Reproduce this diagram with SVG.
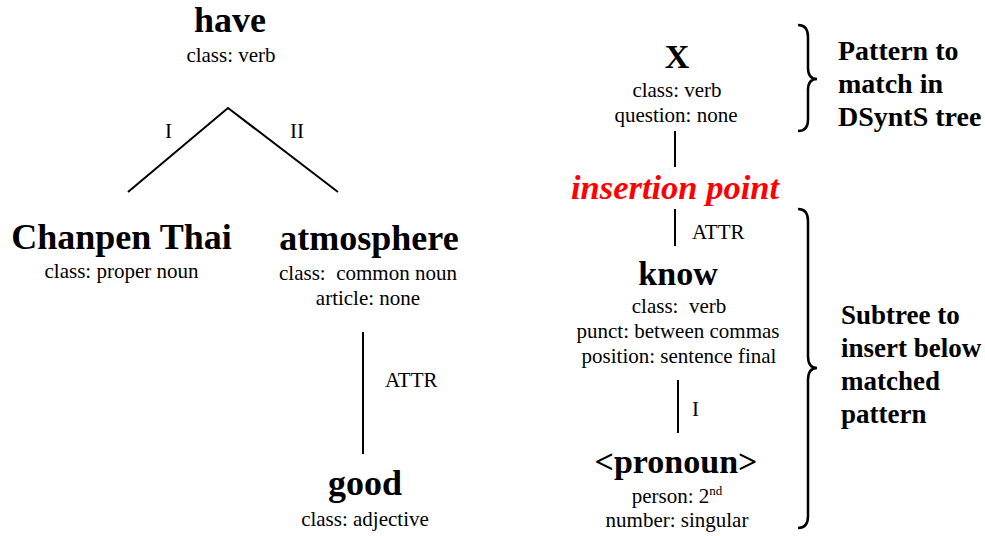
<svg xmlns="http://www.w3.org/2000/svg" width="985" height="536" viewBox="0 0 985 536">
<style>
text{font-family:"Liberation Serif","Times New Roman",serif;fill:#000;text-anchor:middle}
.n{font-weight:bold;font-size:36px}
.nr{font-weight:bold;font-size:34px}
.a{font-size:21px}
.l{font-size:21px;text-anchor:start}
.b{font-weight:bold;font-size:28px;text-anchor:start}
.b2{font-weight:bold;font-size:27px;text-anchor:start}
.ins{font-weight:bold;font-style:italic;font-size:34.5px;fill:#ff0000}
.c{stroke:#000;stroke-width:2;fill:none}
.br{stroke:#000;stroke-width:2.5;fill:none}
</style>
<rect width="985" height="536" fill="#fff"/>
<g id="connectors">
<polyline class="c" points="128,192 228,108 338,192"/>
<text class="l" x="165" y="138">I</text>
<text class="l" x="290" y="138">II</text>
<line class="c" x1="363" y1="332" x2="363" y2="454"/>
<text class="l" x="385" y="387">ATTR</text>
<line class="c" x1="675" y1="131" x2="675" y2="167"/>
<line class="c" x1="675" y1="209" x2="675" y2="246"/>
<text class="l" x="692" y="239">ATTR</text>
<line class="c" x1="678" y1="380" x2="678" y2="433"/>
<text class="l" x="692" y="416">I</text>
</g>
<g id="have">
<text class="n" x="230" y="32">have</text>
<text class="a" x="231" y="62">class: verb</text>
</g>
<g id="chanpen">
<text class="n" x="121.5" y="249">Chanpen Thai</text>
<text class="a" x="121.5" y="278">class: proper noun</text>
</g>
<g id="atmosphere">
<text class="n" x="369" y="250">atmosphere</text>
<text class="a" x="368" y="280" xml:space="preserve">class:  common noun</text>
<text class="a" x="368" y="305">article: none</text>
</g>
<g id="good">
<text class="n" x="365" y="495">good</text>
<text class="a" x="365" y="526">class: adjective</text>
</g>
<g id="X">
<text class="nr" x="677" y="68">X</text>
<text class="a" x="677" y="97">class: verb</text>
<text class="a" x="676" y="122">question: none</text>
</g>
<g id="insertion">
<text class="ins" x="675" y="199">insertion point</text>
</g>
<g id="know">
<text class="nr" x="678" y="285">know</text>
<text class="a" x="679" y="313" xml:space="preserve">class:  verb</text>
<text class="a" x="678" y="338">punct: between commas</text>
<text class="a" x="679" y="363">position: sentence final</text>
</g>
<g id="pronoun">
<text class="nr" x="676" y="473">&lt;pronoun&gt;</text>
<text class="a" x="677" y="503">person: 2<tspan font-size="13" dy="-8">nd</tspan></text>
<text class="a" x="677" y="527">number: singular</text>
</g>
<g id="pattern-brace">
<path class="br" d="M798,25 Q808,25 808,37 L808,68 Q808,79 817,79 Q808,79 808,90 L808,120 Q808,131 798,131"/>
<text class="b" x="838" y="60">Pattern to</text>
<text class="b" x="838" y="93">match in</text>
<text class="b" x="838" y="126">DSyntS tree</text>
</g>
<g id="subtree-brace">
<path class="br" d="M798,209 Q808,209 808,221 L808,356 Q808,368 817,368 Q808,368 808,380 L808,516 Q808,528 798,528"/>
<text class="b2" x="841" y="324">Subtree to</text>
<text class="b2" x="841" y="357">insert below</text>
<text class="b2" x="841" y="390">matched</text>
<text class="b2" x="841" y="423">pattern</text>
</g>
</svg>
